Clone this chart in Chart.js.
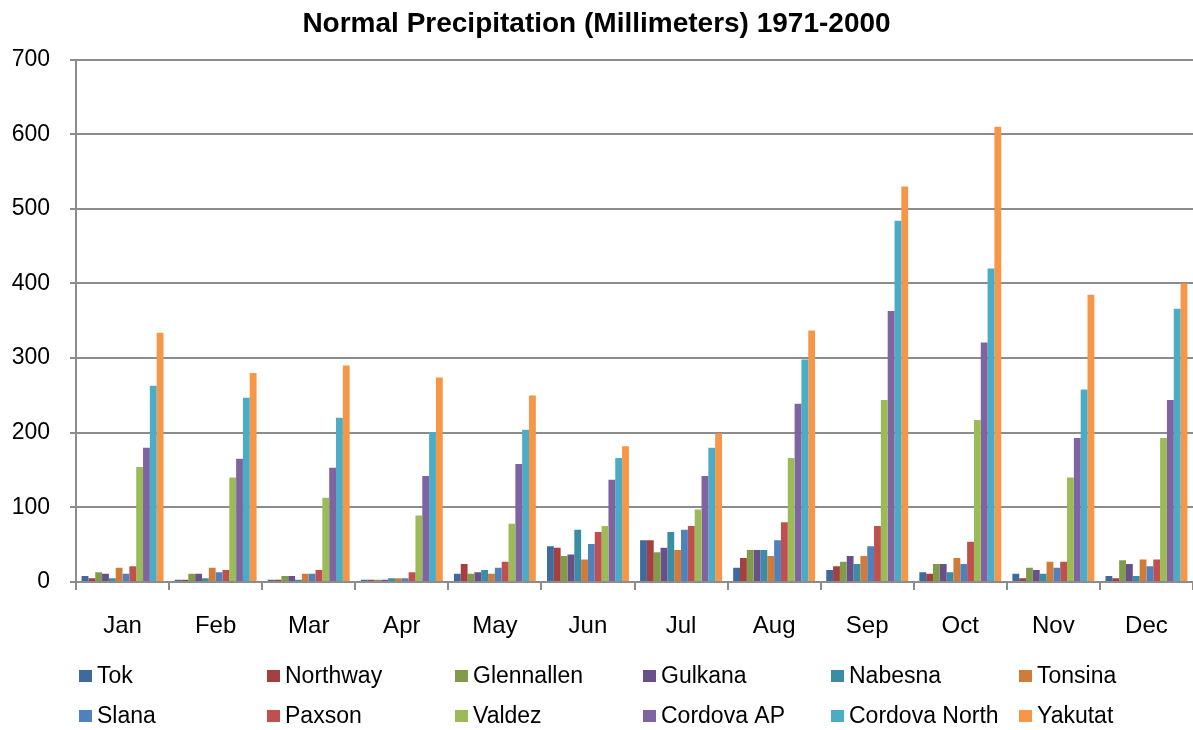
<!DOCTYPE html>
<html>
<head>
<meta charset="utf-8">
<script src="https://cdn.jsdelivr.net/npm/chart.js@4/dist/chart.umd.min.js"></script>
<style>
  html, body { margin: 0; padding: 0; background: #fff; }
  #wrap { width: 1193px; height: 730px; }
</style>
</head>
<body>
<div id="wrap"><canvas id="precipChart" width="1193" height="730"></canvas></div>
<script>
// Mois / catégories
const months = ['Jan', 'Feb', 'Mar', 'Apr', 'May', 'Jun', 'Jul', 'Aug', 'Sep', 'Oct', 'Nov', 'Dec'];

// Valeurs (mm)
const tok          = [8, 3, 3, 3, 11, 48, 56, 19, 16, 13, 11, 8];
const northway     = [5, 3, 3, 3, 24, 46, 56, 32, 21, 11, 5, 5];
const glennallen   = [13, 11, 8, 3, 11, 35, 40, 43, 27, 24, 19, 29];
const gulkana      = [11, 11, 8, 3, 13, 37, 46, 43, 35, 24, 16, 24];
const nabesna      = [5, 5, 3, 5, 16, 70, 67, 43, 24, 13, 11, 8];
const tonsina      = [19, 19, 11, 5, 11, 30, 43, 35, 35, 32, 27, 30];
const slana        = [11, 13, 11, 5, 19, 51, 70, 56, 48, 24, 19, 21];
const paxson       = [21, 16, 16, 13, 27, 67, 75, 80, 75, 54, 27, 30];
const valdez       = [154, 140, 113, 89, 78, 75, 97, 166, 244, 217, 140, 193];
const cordovaAP    = [180, 165, 153, 142, 158, 137, 142, 239, 363, 321, 193, 244];
const cordovaNorth = [263, 247, 220, 201, 204, 166, 180, 298, 484, 420, 258, 366];
const yakutat      = [334, 280, 290, 274, 250, 182, 199, 337, 530, 610, 385, 400];

// Graduations de l'axe Y
const yTicks = [0, 100, 200, 300, 400, 500, 600, 700];

const stations = ['Tok', 'Northway', 'Glennallen', 'Gulkana', 'Nabesna', 'Tonsina',
                  'Slana', 'Paxson', 'Valdez', 'Cordova AP', 'Cordova North', 'Yakutat'];
const series = [tok, northway, glennallen, gulkana, nabesna, tonsina,
                slana, paxson, valdez, cordovaAP, cordovaNorth, yakutat];
const colors = ['#3F6A9E', '#A5403E', '#809C4B', '#69508B', '#3A8DA4', '#D17B3A',
                '#4F81BD', '#C0504D', '#9BBB59', '#8064A2', '#4BACC6', '#F79646'];

const FONT = "'Liberation Sans', Arial, sans-serif";
const GRID = '#8c8c8c';

// Légende en grille 6 x 2 dessinée sur le canvas
const gridLegend = {
    id: 'gridLegend',
    afterDraw(chart) {
        const ctx = chart.ctx;
        ctx.save();
        ctx.font = '23px ' + FONT;
        ctx.textBaseline = 'middle';
        ctx.textAlign = 'left';
        chart.data.datasets.forEach((ds, i) => {
            const col = i % 6;
            const row = Math.floor(i / 6);
            const x = 79 + col * 188;
            const y = 676 + row * 40;
            ctx.fillStyle = ds.backgroundColor;
            ctx.fillRect(x, y - 6, 13, 12);
            ctx.fillStyle = '#000';
            ctx.fillText(ds.label, x + 18, y + 1);
        });
        ctx.restore();
    }
};

const ctx = document.getElementById('precipChart').getContext('2d');
const chart = new Chart(ctx, {
    type: 'bar',
    data: {
        labels: months,
        datasets: stations.map((name, i) => ({
            label: name,
            data: series[i],
            backgroundColor: colors[i],
            borderWidth: 0,
            categoryPercentage: 0.88,
            barPercentage: 1.0
        }))
    },
    options: {
        responsive: false,
        animation: false,
        layout: { padding: { left: 0, right: 0, top: 0, bottom: 78 } },
        plugins: {
            legend: { display: false },
            tooltip: { enabled: false },
            title: {
                display: true,
                text: 'Normal Precipitation (Millimeters) 1971-2000',
                color: '#000',
                font: { family: FONT, size: 28, weight: 'bold', lineHeight: 1.2 },
                padding: { top: 7, bottom: 19 }
            }
        },
        scales: {
            x: {
                grid: {
                    offset: true,
                    drawOnChartArea: false,
                    drawTicks: true,
                    tickLength: 8,
                    color: GRID,
                    lineWidth: 2
                },
                border: { display: true, color: GRID, width: 2 },
                ticks: { color: '#000', font: { family: FONT, size: 24 }, padding: 22 },
                afterFit: (scale) => { scale.height = 70; }
            },
            y: {
                min: 0,
                max: 700,
                afterBuildTicks: (scale) => { scale.ticks = yTicks.map(v => ({ value: v })); },
                grid: { color: GRID, lineWidth: 2, tickLength: 6 },
                border: { display: true, color: GRID, width: 2 },
                ticks: { color: '#000', font: { family: FONT, size: 23 }, padding: 20 },
                afterFit: (scale) => { scale.width = 76; }
            }
        }
    },
    plugins: [gridLegend]
});
</script>
</body>
</html>
